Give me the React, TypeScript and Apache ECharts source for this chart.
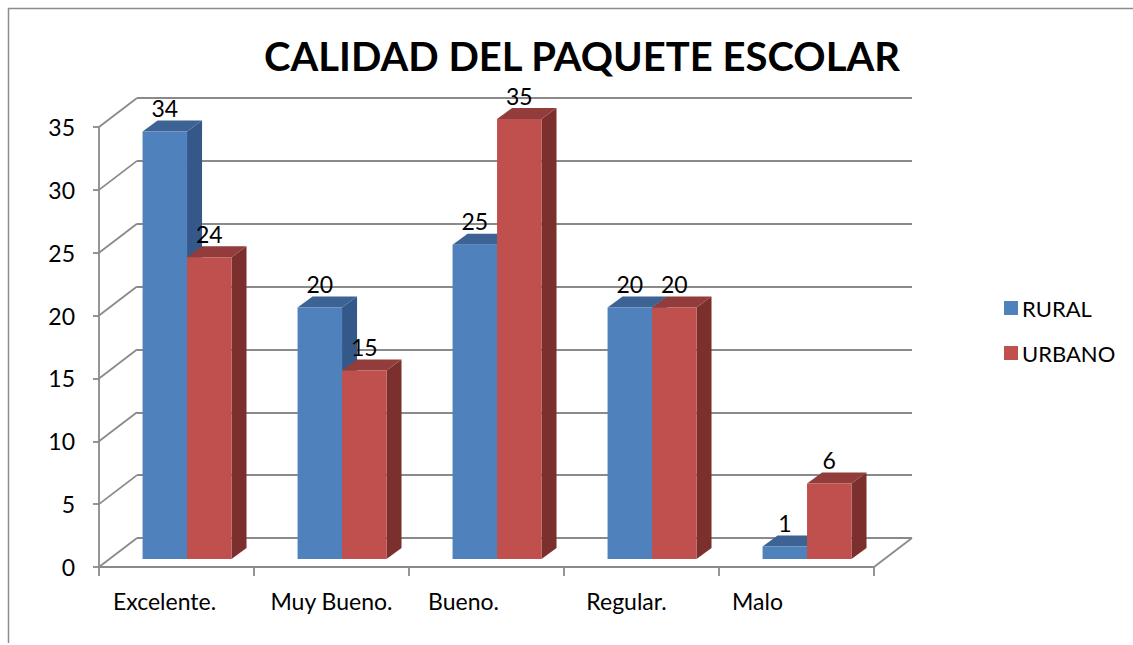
import React, { useEffect, useRef } from "react";
import * as echarts from "echarts";

const CATEGORIES = ["Excelente.", "Muy Bueno.", "Bueno.", "Regular.", "Malo"];
const RURAL = [34, 20, 25, 20, 1];
const URBANO = [24, 15, 35, 20, 6];
const SERIES_NAMES = ["RURAL", "URBANO"];
const Y_MIN = 0;
const Y_MAX = 35;
const Y_STEP = 5;

const FONT = "Lato, 'Noto Sans', sans-serif";
const FS = 23;
const GRID_COLOR = "#8a8a8a";
const DEPTH_X = 38;
const DEPTH_Y = 29;

const COLORS = [
  { front: "#4F81BD", top: "#3C6393", side: "#34588A" },
  { front: "#C0504D", top: "#923D3B", side: "#7B302E" },
];

// visual horizontal nudges for category labels (px)
const LABEL_SHIFT = [-12, 0, -23, -15, -39];

function makeBarRender(sIdx: number) {
  return (params: any, api: any) => {
    const idx = api.value(0);
    const v = api.value(1);
    const base = api.coord([idx, 0]);
    const topP = api.coord([idx, v]);
    const band = api.size([1, 0])[0];
    const bw = band * 0.287;
    const shiftX = band * 0.068;
    const shiftY = 8;
    const dx = 15;
    const dy = 11;
    const x0 = base[0] + shiftX - bw + sIdx * bw;
    const x1 = x0 + bw;
    const yb = base[1] - shiftY;
    const yt = topP[1] - shiftY;
    const c = COLORS[sIdx];
    return {
      type: "group",
      children: [
        {
          type: "polygon",
          shape: { points: [[x1, yt], [x1 + dx, yt - dy], [x1 + dx, yb - dy], [x1, yb]] },
          style: { fill: c.side },
        },
        {
          type: "polygon",
          shape: { points: [[x0, yt], [x1, yt], [x1 + dx, yt - dy], [x0 + dx, yt - dy]] },
          style: { fill: c.top },
        },
        {
          type: "rect",
          shape: { x: x0, y: yt, width: bw, height: yb - yt },
          style: { fill: c.front },
        },
        {
          type: "text",
          style: {
            text: String(v),
            x: (x0 + x1) / 2,
            y: yt - 23.5,
            align: "center",
            verticalAlign: "middle",
            fontSize: FS,
            fontFamily: FONT,
            fill: "#000",
          },
        },
      ],
    };
  };
}

const wallRender = (params: any, api: any) => {
  const v = api.value(1);
  const p = api.coord([0, v]);
  const cs = params.coordSys;
  const children: any[] = [
    {
      type: "line",
      shape: { x1: cs.x, y1: p[1], x2: cs.x + DEPTH_X, y2: p[1] - DEPTH_Y },
      style: { stroke: GRID_COLOR, lineWidth: 1.8 },
    },
  ];
  if (v === Y_MIN) {
    children.push({
      type: "line",
      shape: {
        x1: cs.x + cs.width,
        y1: p[1],
        x2: cs.x + cs.width + DEPTH_X,
        y2: p[1] - DEPTH_Y,
      },
      style: { stroke: GRID_COLOR, lineWidth: 1.8 },
    });
  }
  return { type: "group", children };
};

export default function App() {
  const ref = useRef<HTMLDivElement>(null);
  useEffect(() => {
    if (!ref.current) return;
    const chart = echarts.init(ref.current, null, { renderer: "svg" });
    const wallValues: number[][] = [];
    for (let v = Y_MIN; v <= Y_MAX; v += Y_STEP) wallValues.push([0, v]);
    const rich: any = {};
    LABEL_SHIFT.forEach((s, i) => {
      rich["c" + i] = {
        fontSize: FS,
        fontFamily: FONT,
        color: "#000",
        padding: s < 0 ? [0, -2 * s, 0, 0] : [0, 0, 0, 2 * s],
      };
    });
    const option: any = {
      animation: false,
      backgroundColor: "#fff",
      title: {
        text: "CALIDAD DEL PAQUETE ESCOLAR",
        left: 577,
        top: 33,
        textAlign: "center",
        textStyle: {
          fontSize: 40,
          lineHeight: 36,
          fontWeight: "bold",
          fontFamily: FONT,
          color: "#000",
        },
      },
      legend: {
        data: SERIES_NAMES,
        orient: "vertical",
        left: 999,
        top: 292,
        icon: "rect",
        itemWidth: 14,
        itemHeight: 14,
        itemGap: 23,
        textStyle: { fontSize: 22, fontFamily: FONT, color: "#000", padding: [0, 0, 0, -1] },
      },
      graphic: [
        { type: "line", shape: { x1: 8, y1: 8.5, x2: 1133, y2: 8.5 }, style: { stroke: "#8c8c8c", lineWidth: 1.5 } },
        { type: "line", shape: { x1: 8.5, y1: 8, x2: 8.5, y2: 643 }, style: { stroke: "#8c8c8c", lineWidth: 1.5 } },
      ],
      grid: [
        { left: 99, top: 127, width: 775, height: 440 },
        { left: 99 + DEPTH_X, top: 127 - DEPTH_Y, width: 775, height: 440 },
      ],
      xAxis: [
        {
          gridIndex: 0,
          type: "category",
          data: CATEGORIES,
          boundaryGap: true,
          axisLine: { show: true, lineStyle: { color: GRID_COLOR, width: 1.8 } },
          axisTick: { show: true, length: 9, lineStyle: { color: GRID_COLOR, width: 1.8 } },
          axisLabel: {
            margin: 22,
            formatter: (val: string, i: number) => `{c${i}|${val}}`,
            rich,
          },
        },
        { gridIndex: 1, type: "category", data: CATEGORIES, show: false },
      ],
      yAxis: [
        {
          gridIndex: 0,
          type: "value",
          min: Y_MIN,
          max: Y_MAX,
          interval: Y_STEP,
          axisLine: { show: true, lineStyle: { color: GRID_COLOR, width: 1.8 } },
          axisTick: { show: true, length: 6, lineStyle: { color: GRID_COLOR, width: 1.8 } },
          splitLine: { show: false },
          axisLabel: { margin: 24, fontSize: FS, fontFamily: FONT, color: "#000" },
        },
        {
          gridIndex: 1,
          type: "value",
          min: Y_MIN,
          max: Y_MAX,
          interval: Y_STEP,
          axisLine: { show: false },
          axisTick: { show: false },
          axisLabel: { show: false },
          splitLine: { show: true, lineStyle: { color: GRID_COLOR, width: 1.8 } },
        },
      ],
      series: [
        {
          type: "custom",
          name: "walls",
          xAxisIndex: 0,
          yAxisIndex: 0,
          z: 1,
          silent: true,
          renderItem: wallRender,
          data: wallValues,
          encode: { x: 0, y: 1 },
        },
        {
          type: "custom",
          name: SERIES_NAMES[0],
          xAxisIndex: 0,
          yAxisIndex: 0,
          z: 3,
          itemStyle: { color: COLORS[0].front },
          renderItem: makeBarRender(0),
          data: RURAL.map((v, i) => [i, v]),
          encode: { x: 0, y: 1 },
        },
        {
          type: "custom",
          name: SERIES_NAMES[1],
          xAxisIndex: 0,
          yAxisIndex: 0,
          z: 4,
          itemStyle: { color: COLORS[1].front },
          renderItem: makeBarRender(1),
          data: URBANO.map((v, i) => [i, v]),
          encode: { x: 0, y: 1 },
        },
      ],
    };
    chart.setOption(option);
    return () => chart.dispose();
  }, []);
  return (
    <div
      ref={ref}
      style={{ position: "absolute", left: 0, top: 0, width: 1133, height: 645 }}
    />
  );
}
